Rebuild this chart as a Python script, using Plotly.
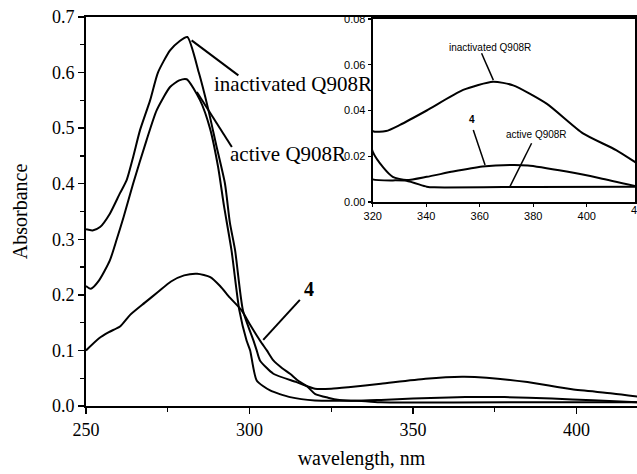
import plotly.graph_objects as go

# ---------------- data ----------------
wl_inactivated = [250, 252, 254.3, 257.3, 260.4, 262.4, 264.5, 266.5, 269.6, 272, 275.7, 278.5, 281,
                  284.5, 287.3, 289.8, 292.5, 294, 295.6, 298.0, 301.2, 302.2, 303.2, 307.3, 314.4,
                  320, 325, 330.2, 340.2, 353.8, 365, 372.5, 385, 398.6, 411, 420]
abs_inactivated = [0.318, 0.316, 0.322, 0.346, 0.383, 0.406, 0.45, 0.496, 0.55, 0.60, 0.64, 0.656, 0.664,
                   0.60, 0.536, 0.47, 0.40, 0.33, 0.28, 0.172, 0.118, 0.10, 0.082, 0.058, 0.043,
                   0.031, 0.031, 0.0337, 0.040, 0.049, 0.0526, 0.051, 0.043, 0.030, 0.0227, 0.016]

wl_active = [250, 251.5, 254, 257.3, 259.4, 261.5, 264.4, 268.5, 271.6, 275.7, 278.5, 280.8,
             284.9, 287.9, 290.4, 292.2, 294.5, 296.9, 299.1, 300.2, 302.2, 306.3, 312.4,
             320, 332.6, 340.2, 343, 380, 420]
abs_active = [0.216, 0.211, 0.226, 0.262, 0.30, 0.34, 0.40, 0.478, 0.532, 0.574, 0.586, 0.588,
              0.55, 0.50, 0.43, 0.36, 0.28, 0.172, 0.118, 0.10, 0.046, 0.028, 0.016,
              0.0099, 0.0093, 0.0067, 0.0064, 0.0066, 0.0067]

wl_cmpd4 = [250, 254, 257, 260.4, 263.5, 268, 272, 276, 280, 284, 288, 291, 294, 297.6, 300, 303.2,
            305.3, 307.3, 310, 312.4, 315, 317.5, 320, 324, 327.5, 332.6, 340.2, 350, 361, 366, 378,
            392.5, 405, 420]
abs_cmpd4 = [0.100, 0.122, 0.133, 0.143, 0.164, 0.186, 0.205, 0.224, 0.235, 0.238, 0.232, 0.216, 0.195,
             0.172, 0.148, 0.118, 0.10, 0.082, 0.068, 0.058, 0.045, 0.036, 0.022, 0.015, 0.011, 0.0096,
             0.011, 0.0133, 0.0155, 0.016, 0.016, 0.0133, 0.0104, 0.0065]

main_xticks = [250, 300, 350, 400]
main_yticks = [0.0, 0.1, 0.2, 0.3, 0.4, 0.5, 0.6, 0.7]
inset_xticks = [320, 340, 360, 380, 400]
inset_yticks = [0.00, 0.02, 0.04, 0.06, 0.08]

SERIF = "Liberation Serif, Times New Roman, serif"
SANS = "Liberation Sans, Arial, sans-serif"

fig = go.Figure()
line = dict(color="black", width=2, shape="spline", smoothing=0.6)
series = [(wl_inactivated, abs_inactivated), (wl_active, abs_active), (wl_cmpd4, abs_cmpd4)]
for wl, ab in series:
    fig.add_trace(go.Scatter(x=wl, y=ab, mode="lines", line=line, xaxis="x", yaxis="y",
                             hoverinfo="skip"))
for wl, ab in series:
    fig.add_trace(go.Scatter(x=wl, y=ab, mode="lines", line=line, xaxis="x2", yaxis="y2",
                             hoverinfo="skip"))

W, H = 637, 474
ml, mr, mt, mb = 86, 0, 17, 68
pw, ph = W - ml - mr, H - mt - mb

def px_x(p):
    return (p - ml) / pw

def px_y(p):
    return (H - mb - p) / ph

fig.update_layout(
    width=W, height=H,
    margin=dict(l=ml, r=mr, t=mt, b=mb, pad=0, autoexpand=False),
    paper_bgcolor="white", plot_bgcolor="white",
    showlegend=False,
    font=dict(family=SERIF, color="black", size=18),
    xaxis=dict(
        range=[250, 250 + pw / 3.27], domain=[0, 1], automargin=False,
        showline=True, linecolor="black", linewidth=2, mirror=True,
        showgrid=False, zeroline=False,
        tickmode="array", tickvals=main_xticks, ticktext=[str(v) for v in main_xticks],
        ticks="outside", ticklen=6, tickwidth=1.5, tickcolor="black",
        tickfont=dict(family=SERIF, size=18),
        minor=dict(dtick=25, tick0=250, ticks="outside", ticklen=4, tickwidth=1.2, tickcolor="black"),
        title=dict(text="wavelength, nm", font=dict(family=SERIF, size=20), standoff=12),
    ),
    yaxis=dict(
        range=[0, 0.7], domain=[0, 1], automargin=False,
        showline=True, linecolor="black", linewidth=2, mirror=False,
        showgrid=False, zeroline=False,
        tickmode="array", tickvals=main_yticks, ticktext=[f"{v:.1f}" for v in main_yticks],
        ticks="outside", ticklen=6, tickwidth=1.5, tickcolor="black",
        tickfont=dict(family=SERIF, size=18),
        minor=dict(dtick=0.05, tick0=0, ticks="outside", ticklen=4, tickwidth=1.2, tickcolor="black"),
        title=dict(text="Absorbance", font=dict(family=SERIF, size=20), standoff=19),
    ),
    xaxis2=dict(
        range=[320, 320 + (635 - 372.7) / 2.675], domain=[px_x(372.7), px_x(635)],
        anchor="y2", automargin=False,
        showline=True, linecolor="black", linewidth=2, mirror=True,
        showgrid=False, zeroline=False,
        tickmode="array", tickvals=inset_xticks, ticktext=[str(v) for v in inset_xticks],
        ticks="outside", ticklen=3, tickwidth=1.2, tickcolor="black",
        tickfont=dict(family=SANS, size=11),
    ),
    yaxis2=dict(
        range=[0, 0.08], domain=[px_y(202), px_y(19)],
        anchor="x2", automargin=False,
        showline=True, linecolor="black", linewidth=2, mirror=True,
        showgrid=False, zeroline=False,
        tickmode="array", tickvals=inset_yticks, ticktext=[f"{v:.2f}" for v in inset_yticks],
        ticks="outside", ticklen=3, tickwidth=1.2, tickcolor="black",
        tickfont=dict(family=SANS, size=11),
    ),
)

annotations = [
    dict(text="inactivated Q908R", x=288.5, y=0.580, xref="x", yref="y", xanchor="left", yanchor="middle",
         showarrow=False, font=dict(family=SERIF, size=21)),
    dict(text="active Q908R", x=293.6, y=0.454, xref="x", yref="y", xanchor="left", yanchor="middle",
         showarrow=False, font=dict(family=SERIF, size=21), borderpad=0),
    dict(text="<b>4</b>", x=318.2, y=0.210, xref="x", yref="y", xanchor="center", yanchor="middle",
         showarrow=False, font=dict(family=SERIF, size=20)),
    dict(text="inactivated Q908R", x=363.85, y=0.0675, xref="x2", yref="y2", xanchor="center", yanchor="middle",
         showarrow=False, font=dict(family=SANS, size=10)),
    dict(text="<b>4</b>", x=357.0, y=0.0362, xref="x2", yref="y2", xanchor="center", yanchor="middle",
         showarrow=False, font=dict(family=SANS, size=10)),
    dict(text="active Q908R", x=381.3, y=0.0293, xref="x2", yref="y2", xanchor="center", yanchor="middle",
         showarrow=False, font=dict(family=SANS, size=10)),
    dict(text="420", x=px_x(640), y=px_y(210), xref="paper", yref="paper", xanchor="center", yanchor="middle",
         showarrow=False, font=dict(family=SANS, size=11)),
]
fig.update_layout(annotations=annotations)

leaders = [
    ("x", "y", 282.3, 0.658, 296.6, 0.595, 2),
    ("x", "y", 283.9, 0.565, 294.6, 0.466, 2),
    ("x", "y", 315.4, 0.191, 304.2, 0.119, 2),
    ("x2", "y2", 360.7, 0.065, 365.1, 0.0533, 1.5),
    ("x2", "y2", 357.6, 0.0315, 362.0, 0.0162, 1.5),
    ("x2", "y2", 379.4, 0.0257, 371.3, 0.0067, 1.5),
]
for xr, yr, x0, y0, x1, y1, w in leaders:
    fig.add_shape(type="line", xref=xr, yref=yr, x0=x0, y0=y0, x1=x1, y1=y1,
                  line=dict(color="black", width=w))

fig.write_html("out.html", config={"displayModeBar": False, "staticPlot": True},
               post_script="document.body.style.margin='0';document.body.style.overflow='hidden';")
